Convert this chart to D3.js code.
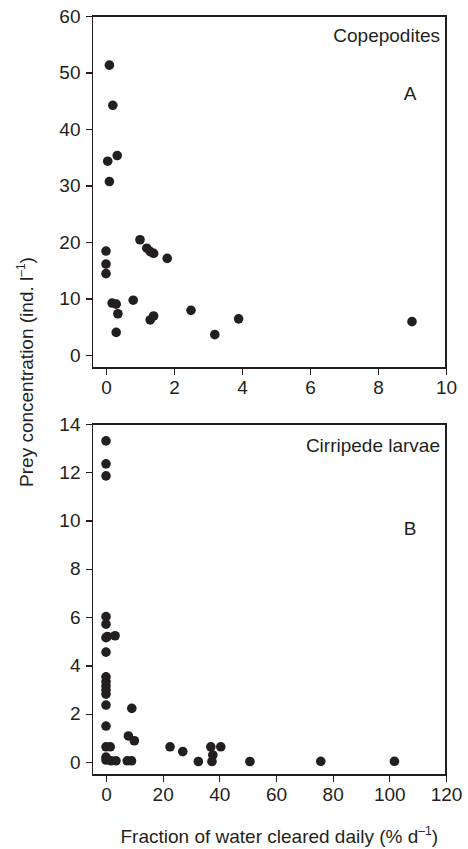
<!DOCTYPE html>
<html>
  <head>
    <meta charset="utf-8">
    <style>
      body { margin: 0; background: #fff; }
      .axis text { font: 19px "Liberation Sans", Arial, sans-serif; fill: #231f20; }
      .axis line { stroke: #231f20; stroke-width: 1.2; shape-rendering: crispEdges; }
      .axis path { display: none; }
      .frame { fill: none; stroke: #231f20; stroke-width: 1.2; shape-rendering: crispEdges; }
      .lbl { font: 19px "Liberation Sans", Arial, sans-serif; fill: #231f20; }
    </style>
    <script src="https://cdn.jsdelivr.net/npm/d3@7"></script>
  </head>
  <body>
    <svg class="chart"></svg>
    <script>
      // panel A: copepodites
      const copeX = [0.1, 0.2, 0.05, 0.33, 0.1, 0, 0, 0, 0.18, 0.3, 0.35, 0.3, 0.8, 1.0, 1.2, 1.3, 1.4, 1.8, 1.3, 1.4, 2.5, 3.2, 3.9, 9.0];
      const copeY = [51.3, 44.2, 34.3, 35.3, 30.7, 18.4, 16.1, 14.4, 9.2, 9.0, 7.3, 4.0, 9.7, 20.4, 18.9, 18.3, 18.0, 17.1, 6.2, 6.9, 7.9, 3.6, 6.4, 5.9];

      // panel B: cirripede larvae
      const cirrX = [0, 0, 0, 0, 0, 0, 0.5, 3.2, 0, 0, 0, 0, 0, 0, 0, 9.1, 0, 7.9, 10, 0, 1.5, 0, 0, 1.8, 3.5, 7.5, 9, 22.6, 27.1, 32.6, 37, 40.5, 37.7, 37.4, 50.8, 75.8, 101.8];
      const cirrY = [13.3, 12.35, 11.85, 6.02, 5.71, 5.15, 5.2, 5.23, 4.55, 3.53, 3.33, 3.15, 2.98, 2.81, 2.36, 2.22, 1.49, 1.08, 0.88, 0.63, 0.63, 0.2, 0.08, 0.05, 0.05, 0.05, 0.05, 0.63, 0.43, 0.02, 0.63, 0.63, 0.29, 0.02, 0.02, 0.03, 0.03];

      const copeXTicks = [0, 2, 4, 6, 8, 10];
      const copeYTicks = [0, 10, 20, 30, 40, 50, 60];
      const cirrXTicks = [0, 20, 40, 60, 80, 100, 120];
      const cirrYTicks = [0, 2, 4, 6, 8, 10, 12, 14];

      const width = 468, height = 849;
      const svg = d3.select(".chart").attr("width", width).attr("height", height);

      const panels = [
        {xs: copeX, ys: copeY, xt: copeXTicks, yt: copeYTicks, xmax: 10, ymax: 60,
         top: 16, bottom: 368, y0: 355, name: "Copepodites", letter: "A", nameY: 42, letterY: 100},
        {xs: cirrX, ys: cirrY, xt: cirrXTicks, yt: cirrYTicks, xmax: 120, ymax: 14,
         top: 424, bottom: 775, y0: 762, name: "Cirripede larvae", letter: "B", nameY: 452, letterY: 535}
      ];
      const left = 92.5, right = 446, x0 = 106;

      panels.forEach(p => {
        const x = d3.scaleLinear().domain([0, p.xmax]).range([x0, right]);
        const y = d3.scaleLinear().domain([0, p.ymax]).range([p.y0, p.top]);

        svg.append("rect")
          .attr("class", "frame")
          .attr("x", left).attr("y", p.top)
          .attr("width", right - left).attr("height", p.bottom - p.top);

        svg.append("g")
          .attr("class", "axis")
          .attr("transform", `translate(${left},0)`)
          .call(d3.axisLeft(y).tickValues(p.yt).tickSize(7).tickPadding(5).tickFormat(d3.format("d")));

        svg.append("g")
          .attr("class", "axis")
          .attr("transform", `translate(0,${p.bottom})`)
          .call(d3.axisBottom(x).tickValues(p.xt).tickSize(7).tickPadding(6).tickFormat(d3.format("d")));

        svg.append("g").selectAll("circle")
          .data(p.xs.map((v, i) => [v, p.ys[i]]))
          .join("circle")
          .attr("cx", d => x(d[0]))
          .attr("cy", d => y(d[1]))
          .attr("r", 4.8)
          .attr("fill", "#231f20");

        svg.append("text").attr("class", "lbl")
          .attr("x", 440).attr("y", p.nameY)
          .attr("text-anchor", "end")
          .text(p.name);

        svg.append("text").attr("class", "lbl")
          .attr("x", 410).attr("y", p.letterY)
          .attr("text-anchor", "middle")
          .text(p.letter);
      });

      // axis titles
      const yt = svg.append("text").attr("class", "lbl")
        .attr("transform", "translate(33,372) rotate(-90)")
        .attr("text-anchor", "middle");
      yt.append("tspan").text("Prey concentration (ind. l");
      yt.append("tspan").attr("font-size", 12).attr("dy", -8).text("–1");
      yt.append("tspan").attr("dy", 8).text(")");

      const xt = svg.append("text").attr("class", "lbl")
        .attr("x", (left + right) / 2 + 10).attr("y", 843)
        .attr("text-anchor", "middle");
      xt.append("tspan").text("Fraction of water cleared daily (% d");
      xt.append("tspan").attr("font-size", 12).attr("dy", -8).text("–1");
      xt.append("tspan").attr("dy", 8).text(")");
    </script>
  </body>
</html>
